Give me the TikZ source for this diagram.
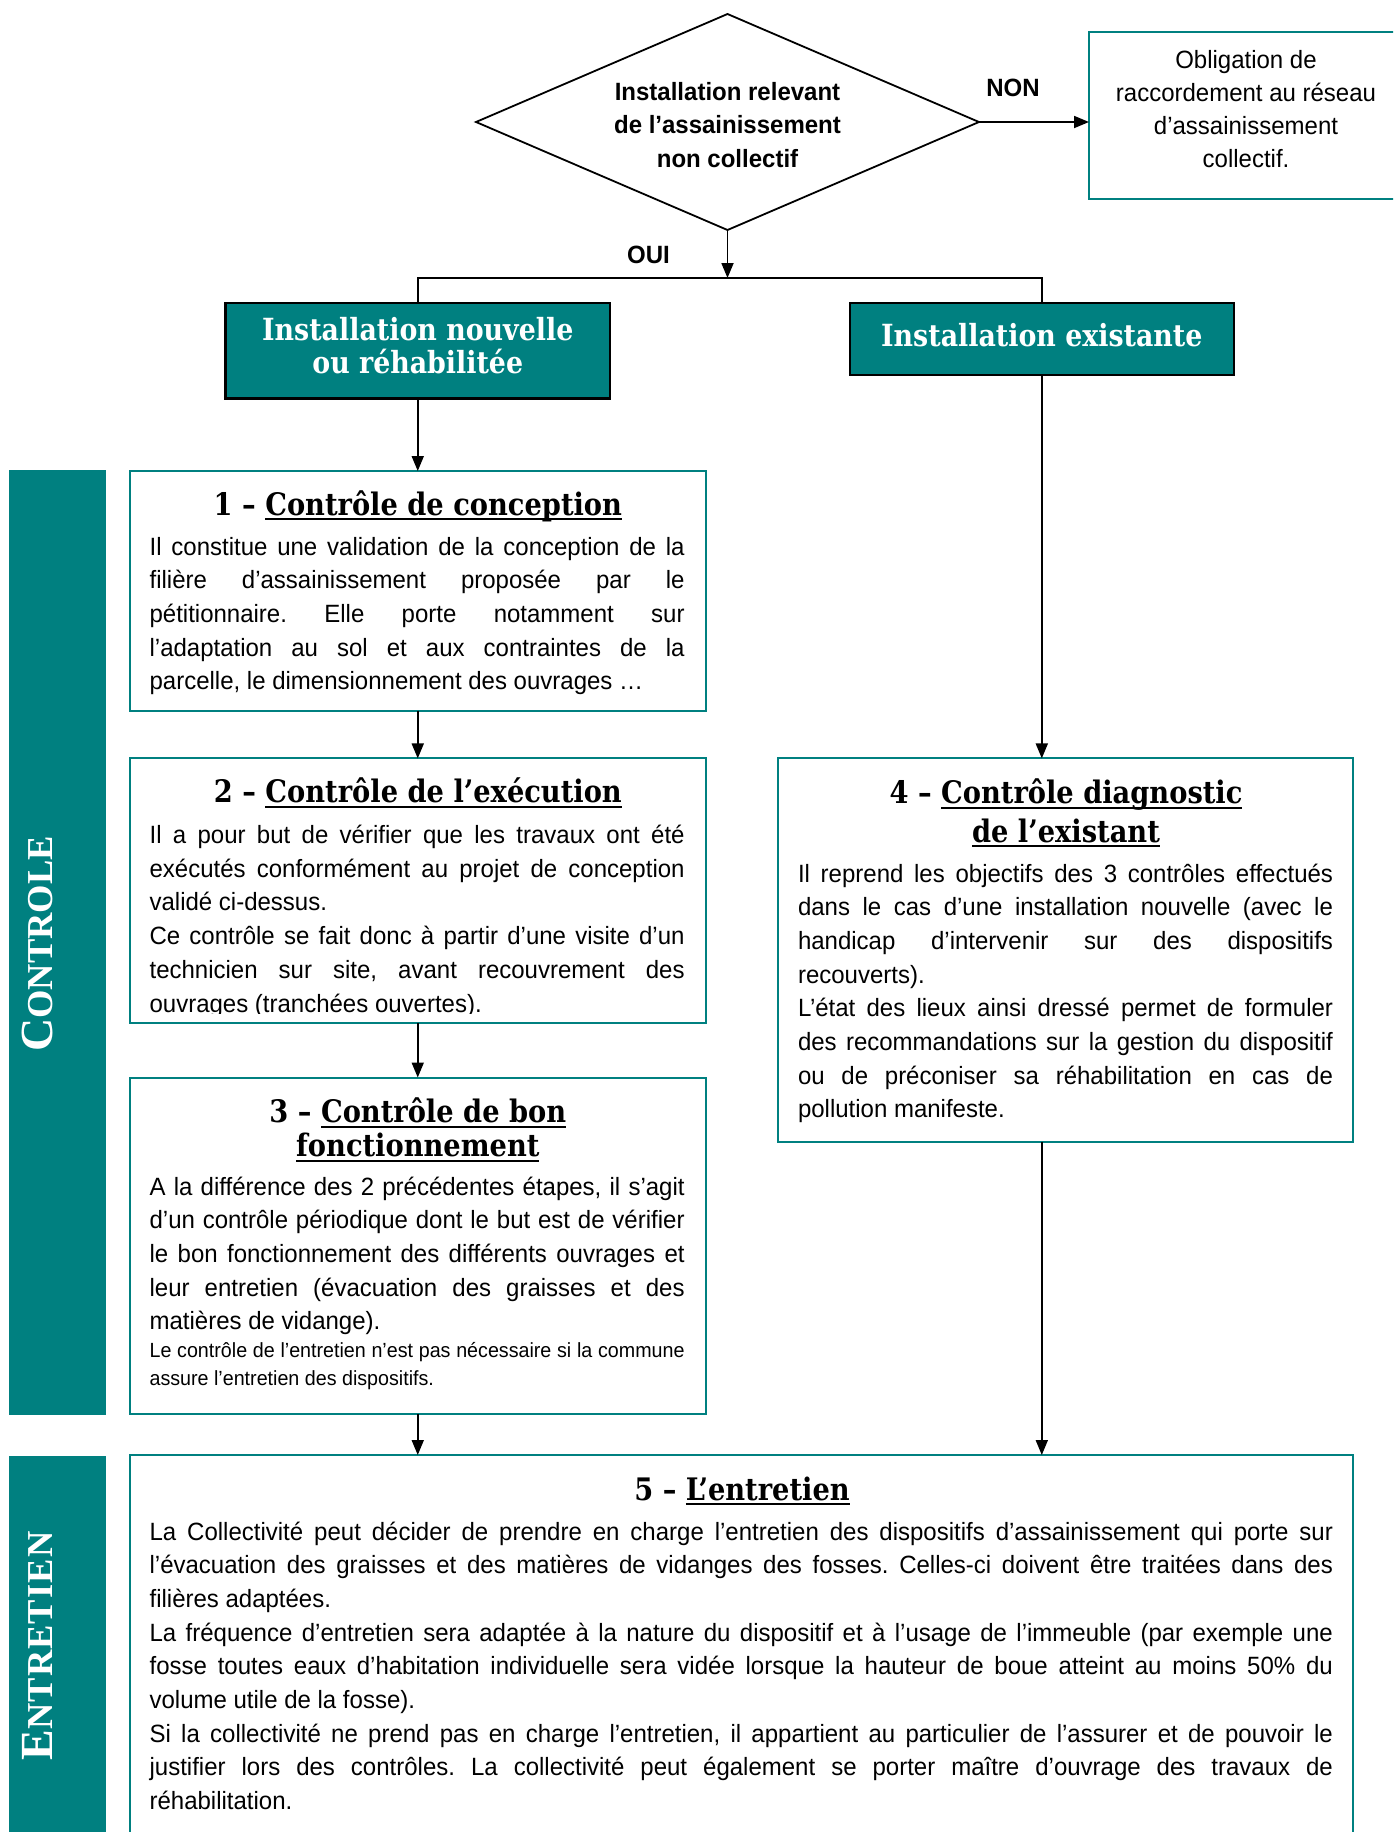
\documentclass[tikz,border=0pt]{standalone}
\usepackage{fontspec}
\setmainfont{Liberation Sans}[FakeStretch=0.96]
\newfontfamily\hfont{DejaVu Serif}[FakeStretch=0.88]
\newfontfamily\sidefont{Liberation Serif}
\usetikzlibrary{arrows.meta,shapes.geometric}
\definecolor{teal0}{RGB}{0,128,128}
\newcommand\myul[1]{\leavevmode\setbox0\hbox{#1}\rlap{\rule[-5pt]{\wd0}{2pt}}\box0}
\newcommand\bodyfont{\fontsize{25}{33.7}\selectfont}
\newcommand\para[2]{\begin{minipage}[t]{#1pt}\bodyfont\frenchspacing\tolerance=10000\hyphenpenalty=10000\parindent=0pt\emergencystretch=0pt #2\end{minipage}}
\newcommand\ctr[3]{\begin{minipage}[t]{#1pt}\centering #2 #3\end{minipage}}
\tikzset{
  txt/.style={inner sep=0pt, outer sep=0pt},
  wbox/.style={draw=teal0, line width=2pt, fill=white, inner sep=0pt, outer sep=0pt, anchor=north west},
  gbox/.style={draw=black, line width=2.2pt, fill=teal0, inner sep=0pt, outer sep=0pt, anchor=north west},
  sidebar/.style={fill=teal0, inner sep=0pt, outer sep=0pt, anchor=north west, minimum width=96.7pt},
  arr/.style={line width=1.8pt, -{Triangle[length=15pt,width=12pt]}},
  ln/.style={line width=1.8pt},
  head/.style={txt, anchor=base, font=\hfont\bfseries\fontsize{31}{34}\selectfont},
}
\begin{document}
\begin{tikzpicture}[x=1pt,y=-1pt]
\clip (0,0) rectangle (1393,1832);
\fill[white] (0,0) rectangle (1393,1832);

% diamond
\node[draw=black, line width=1.8pt, diamond, aspect=2.33, minimum width=503pt, minimum height=216pt, inner sep=0pt, outer sep=0pt] (dia) at (727.5,122) {};
\node[txt, anchor=base] (diat) at (727.5,100) {\ctr{320}{\bfseries\fontsize{25}{33.5}\selectfont}{Installation relevant\\de l’assainissement\\non collectif}};

% obligation box
\node[wbox, minimum width=320pt, minimum height=167.5pt] (obl) at (1089,31.5) {};
\node[txt, anchor=base] (oblt) at (1246,68) {\ctr{300}{\fontsize{25}{33.3}\selectfont}{Obligation de\\raccordement au réseau\\d’assainissement\\collectif.}};

% labels
\node[txt, anchor=base, font=\bfseries\fontsize{25}{30}\selectfont] (non) at (1013,96) {NON};
\node[txt, anchor=base, font=\bfseries\fontsize{25}{30}\selectfont] (oui) at (648.5,263) {OUI};

% teal boxes
\node[gbox, minimum width=384.5pt, minimum height=95.8pt] (nouv) at (225.5,302.7) {};
\node[txt, anchor=base, text=white] (nouvt) at (417.75,340) {\ctr{380}{\hfont\bfseries\fontsize{30.5}{33.6}\selectfont}{Installation nouvelle\\ou réhabilitée}};
\node[gbox, minimum width=384.4pt, minimum height=72.3pt] (exist) at (849.6,302.7) {};
\node[txt, anchor=base, text=white, font=\hfont\bfseries\fontsize{30.5}{34}\selectfont] (existt) at (1041.8,346) {Installation existante};

% side bars
\node[sidebar, minimum height=945pt] (sb1) at (9.3,470) {};
\node[txt, rotate=90, text=white, font=\sidefont\bfseries] (sb1t) at (37.5,944) {{\fontsize{46}{46}\selectfont C}{\fontsize{36.5}{36.5}\selectfont ONTROLE}};
\node[sidebar, minimum height=400pt] (sb2) at (9.3,1456) {};
\node[txt, rotate=90, text=white, font=\sidefont\bfseries] (sb2t) at (37.5,1646) {\addfontfeature{LetterSpace=3}{\fontsize{46}{46}\selectfont E}{\fontsize{36.5}{36.5}\selectfont NTRETIEN}};

% box 1
\node[wbox, minimum width=576.3pt, minimum height=239.5pt] (b1) at (129.7,471) {};
\node[head] (h1) at (417.85,515) {1 – \myul{Contrôle de conception}};
\node[txt, anchor=base west] (t1) at (149.6,555) {\para{535}{Il constitue une validation de la conception de la\linebreak filière d’assainissement proposée par le\linebreak pétitionnaire. Elle porte notamment sur\linebreak l’adaptation au sol et aux contraintes de la\linebreak parcelle, le dimensionnement des ouvrages …}};

% box 2
\node[wbox, minimum width=576.3pt, minimum height=264.1pt] (b2) at (129.7,758.4) {};
\node[head] (h2) at (417.85,802.5) {2 – \myul{Contrôle de l’exécution}};
\begin{scope}
\clip (129.7,758.4) rectangle (706,1013);
\node[txt, anchor=base west] (t2) at (149.6,843.5) {\para{535}{Il a pour but de vérifier que les travaux ont été\linebreak exécutés conformément au projet de conception\linebreak validé ci-dessus.\par Ce contrôle se fait donc à partir d’une visite d’un\linebreak technicien sur site, avant recouvrement des\linebreak ouvrages (tranchées ouvertes).}};
\end{scope}

% box 3
\node[wbox, minimum width=576.3pt, minimum height=336.5pt] (b3) at (129.7,1077.5) {};
\node[txt, anchor=base] (h3) at (417.85,1122.7) {\ctr{560}{\hfont\bfseries\fontsize{31}{34}\selectfont}{3 – \myul{Contrôle de bon}\\\myul{fonctionnement}}};
\node[txt, anchor=base west] (t3) at (149.6,1195) {\para{535}{A la différence des 2 précédentes étapes, il s’agit\linebreak d’un contrôle périodique dont le but est de vérifier\linebreak le bon fonctionnement des différents ouvrages et\linebreak leur entretien (évacuation des graisses et des\linebreak matières de vidange).\par\fontsize{20.5}{28}\selectfont Le contrôle de l’entretien n’est pas nécessaire si la commune\linebreak assure l’entretien des dispositifs.}};

% box 4
\node[wbox, minimum width=575pt, minimum height=383.3pt] (b4) at (778,758.4) {};
\node[txt, anchor=base] (h4) at (1066,803.6) {\ctr{560}{\hfont\bfseries\fontsize{31}{38.5}\selectfont}{4 – \myul{Contrôle diagnostic}\\\myul{de l’existant}}};
\node[txt, anchor=base west] (t4) at (798,882) {\para{535}{Il reprend les objectifs des 3 contrôles effectués\linebreak dans le cas d’une installation nouvelle (avec le\linebreak handicap d’intervenir sur des dispositifs\linebreak recouverts).\par L’état des lieux ainsi dressé permet de formuler\linebreak des recommandations sur la gestion du dispositif\linebreak ou de préconiser sa réhabilitation en cas de\linebreak pollution manifeste.}};

% box 5
\node[wbox, minimum width=1223.3pt, minimum height=400pt] (b5) at (129.7,1455) {};
\node[head] (h5) at (742,1500) {5 – \myul{L’entretien}};
\node[txt, anchor=base west] (t5) at (149.6,1540) {\para{1183.4}{La Collectivité peut décider de prendre en charge l’entretien des dispositifs d’assainissement qui porte sur\linebreak l’évacuation des graisses et des matières de vidanges des fosses. Celles-ci doivent être traitées dans des\linebreak filières adaptées.\par La fréquence d’entretien sera adaptée à la nature du dispositif et à l’usage de l’immeuble (par exemple une\linebreak fosse toutes eaux d’habitation individuelle sera vidée lorsque la hauteur de boue atteint au moins 50\% du\linebreak volume utile de la fosse).\par Si la collectivité ne prend pas en charge l’entretien, il appartient au particulier de l’assurer et de pouvoir le\linebreak justifier lors des contrôles. La collectivité peut également se porter maître d’ouvrage des travaux de\linebreak réhabilitation.}};

% connectors
\coordinate (split) at (727.5,278);
\draw[arr] (dia.east) -- (dia.east -| obl.west);
\draw[arr] (dia.south) -- (split);
\draw[ln] (nouv.north) |- (split) -| (exist.north);
\draw[arr] (nouv.south) -- (b1.north -| nouv.south);
\draw[arr] (b1.south -| nouv.south) -- (b2.north -| nouv.south);
\draw[arr] (b2.south -| nouv.south) -- (b3.north -| nouv.south);
\draw[arr] (b3.south -| nouv.south) -- (b5.north -| nouv.south);
\draw[arr] (exist.south) -- (b4.north -| exist.south);
\draw[arr] (b4.south -| exist.south) -- (b5.north -| exist.south);
\end{tikzpicture}
\end{document}
